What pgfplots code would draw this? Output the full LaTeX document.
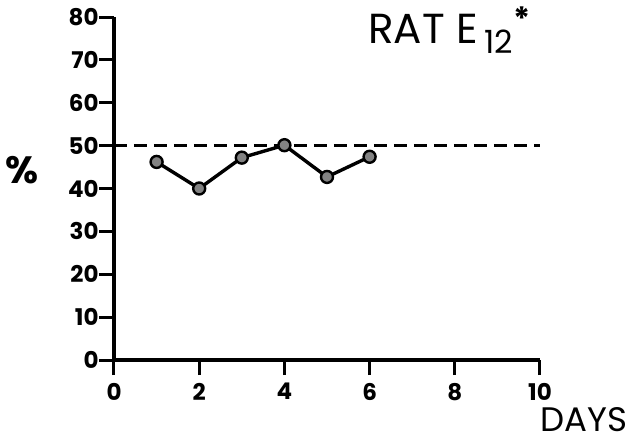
\documentclass[border=0pt]{standalone}
\usepackage{pgfplots}
\pgfplotsset{compat=1.18}
\usepackage{fontspec}
\setmainfont{Poppins}
\begin{document}
\begin{tikzpicture}
% 1 px of the reference = 0.5pt; axis origin at (0,0)
\path[use as bounding box] (-57pt,-40pt) rectangle (257pt,180pt);
\begin{axis}[
    scale only axis,
    width=213pt, height=171.5pt,
    xmin=0, xmax=10, ymin=0, ymax=80,
    axis lines=left,
    axis line style={line width=2pt, -},
    xtick={0,2,...,10},
    ytick={0,10,...,80},
    tick align=outside,
    major tick length=7.5pt,
    tick style={line width=1.5pt, black},
    ticklabel style={font=\fontsize{11.5}{11.5}\selectfont\bfseries},
    /pgf/number format/assume math mode=true,
    yticklabel style={inner xsep=0pt},
    xticklabel style={inner ysep=4pt},
    clip=false,
]
  \addplot[black, line width=1.6pt, dash pattern=on 6.5pt off 3.5pt] coordinates {(0,50) (10,50)};
  \addplot[black, line width=1.7pt, mark=*, mark size=3pt,
           mark options={fill=gray!60!black!70, draw=black, line width=1.2pt}]
    coordinates {(1,46.2) (2,40.0) (3,47.2) (4,50.1) (5,42.7) (6,47.4)};
\end{axis}
\node[anchor=base west, font=\fontsize{21}{21}\selectfont, inner sep=0pt] at (127pt,158.5pt)
  {RAT E\,\raisebox{-0.45ex}{\fontsize{16}{16}\selectfont 12}\raisebox{0.55ex}{\fontsize{16}{16}\selectfont\bfseries *}};
\node[anchor=base west, font=\fontsize{17}{17}\selectfont, inner sep=0pt] at (213pt,-35.5pt) {DAYS};
\node[font=\fontsize{19}{19}\selectfont\bfseries] at (-46pt,95pt) {\%};
\end{tikzpicture}
\end{document}
